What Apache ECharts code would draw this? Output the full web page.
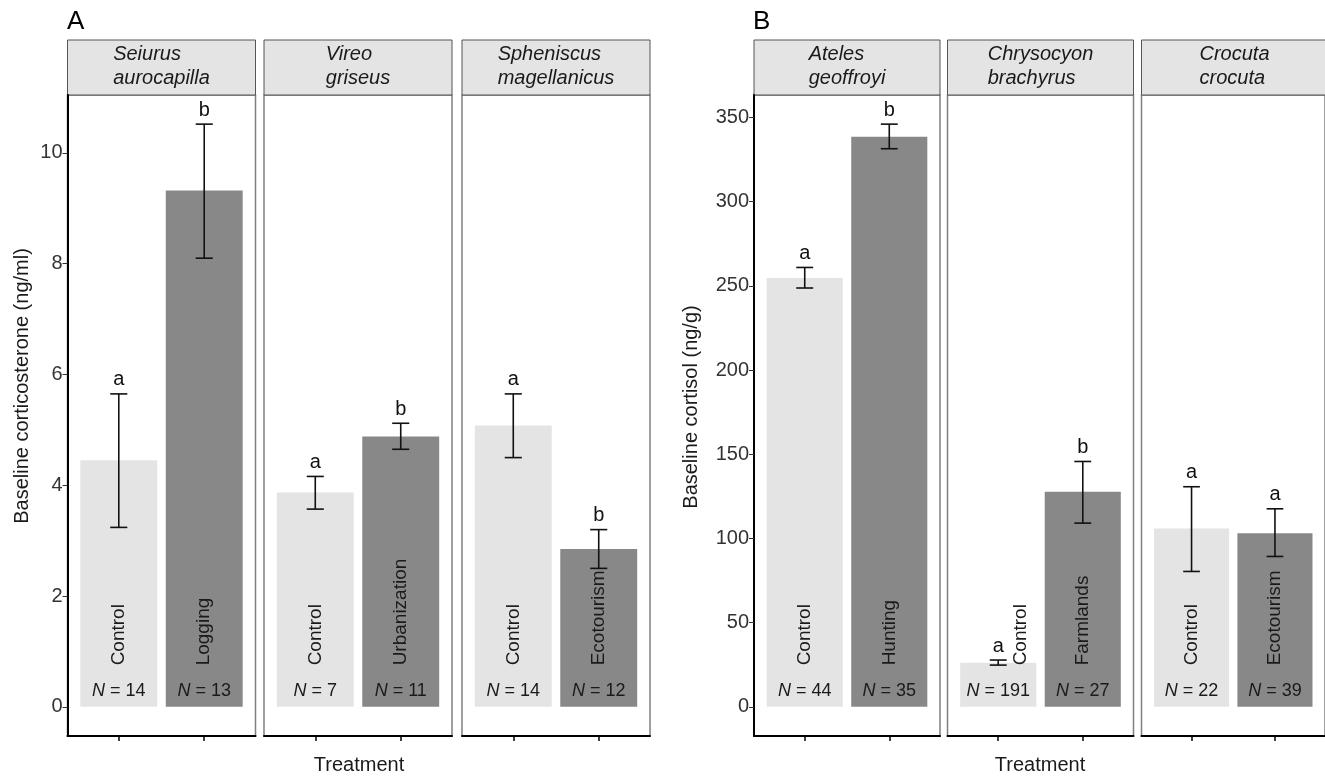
<!DOCTYPE html>
<html>
<head>
<meta charset="utf-8">
<script src="https://cdn.jsdelivr.net/npm/echarts@6/dist/echarts.min.js"></script>
<style>
  html, body { margin: 0; padding: 0; background: #fff; }
  #chart { width: 1325px; height: 776px; }
</style>
</head>
<body>
<div id="chart"></div>
<script>
// Panel A: birds, baseline corticosterone (ng/ml)
const speciesA = ['Seiurus\naurocapilla', 'Vireo\ngriseus', 'Spheniscus\nmagellanicus'];
const treatA = [['Control', 'Logging'], ['Control', 'Urbanization'], ['Control', 'Ecotourism']];
const meanA = [[4.45, 9.32], [3.87, 4.88], [5.08, 2.85]];
const lowA = [[3.24, 8.10], [3.57, 4.65], [4.50, 2.50]];
const highA = [[5.65, 10.52], [4.16, 5.12], [5.65, 3.20]];
const letterA = [['a', 'b'], ['a', 'b'], ['a', 'b']];
const nA = [[14, 13], [7, 11], [14, 12]];
const ticksA = [0, 2, 4, 6, 8, 10];

// Panel B: mammals, baseline cortisol (ng/g)
const speciesB = ['Ateles\ngeoffroyi', 'Chrysocyon\nbrachyrus', 'Crocuta\ncrocuta'];
const treatB = [['Control', 'Hunting'], ['Control', 'Farmlands'], ['Control', 'Ecotourism']];
const meanB = [[254.6, 338.5], [26.2, 127.7], [105.9, 103.1]];
const lowB = [[248.7, 331.4], [24.8, 109.1], [80.4, 89.3]];
const highB = [[260.9, 346.0], [27.8, 145.7], [130.7, 117.6]];
const letterB = [['a', 'b'], ['a', 'b'], ['a', 'a']];
const nB = [[44, 35], [191, 27], [22, 39]];
const ticksB = [0, 50, 100, 150, 200, 250, 300, 350];

const FONT = '"Liberation Sans", Arial, Helvetica, sans-serif';
const LIGHT = '#e3e4e3';
const DARK = '#888888';
const TOP = 95, HEIGHT = 641, STRIP_TOP = 40, STRIP_H = 55;

const panels = [
  { tag: 'A', tagX: 67, species: speciesA, treat: treatA, mean: meanA, low: lowA, high: highA,
    letter: letterA, n: nA, ticks: ticksA, lefts: [67.5, 264, 462], width: 188,
    ytitle: 'Baseline corticosterone (ng/ml)', ytitleX: 22, ytitleY: 386, xtitleX: 359 },
  { tag: 'B', tagX: 753, species: speciesB, treat: treatB, mean: meanB, low: lowB, high: highB,
    letter: letterB, n: nB, ticks: ticksB, lefts: [754, 947.5, 1141.5], width: 186,
    ytitle: 'Baseline cortisol (ng/g)', ytitleX: 691, ytitleY: 407, xtitleX: 1040 }
];

// treatment label moved aside where the error bar sits on it (Chrysocyon control)
const labelNudge = { 'B-1-0': 23 };

const measure = document.createElement('canvas').getContext('2d');
function textWidth(str, font) {
  measure.font = font;
  return Math.max(...str.split('\n').map(s => measure.measureText(s).width));
}

const grid = [], xAxis = [], yAxis = [], series = [], graphic = [];

panels.forEach((p, pi) => {
  const top = Math.max(...p.high.flat());
  const ymin = -0.05 * top, ymax = top * 1.05;

  p.lefts.forEach((left, f) => {
    const k = grid.length;
    grid.push({ left: left, top: TOP, width: p.width, height: HEIGHT, show: true,
      borderColor: '#808080', borderWidth: 1.5, backgroundColor: 'transparent' });
    xAxis.push({ gridIndex: k, type: 'value', min: 0.4, max: 2.6,
      axisLine: { show: true, onZero: false, lineStyle: { color: '#000', width: 2 } },
      axisTick: { show: true, customValues: [1, 2], length: 5, lineStyle: { color: '#000', width: 1.5 } },
      axisLabel: { show: false }, splitLine: { show: false } });
    yAxis.push({ gridIndex: k, type: 'value', min: ymin, max: ymax, show: f === 0,
      axisLine: { show: true, onZero: false, lineStyle: { color: '#000', width: 2 } },
      axisTick: { show: true, customValues: p.ticks, length: 5, lineStyle: { color: '#333', width: 1 } },
      axisLabel: { customValues: p.ticks, fontSize: 20, fontFamily: FONT, color: '#333', margin: 5 },
      splitLine: { show: false } });

    const data = [0, 1].map(i => [i + 1, p.mean[f][i], p.low[f][i], p.high[f][i]]);
    series.push({
      type: 'custom', xAxisIndex: k, yAxisIndex: k, data: data, clip: false,
      renderItem: function (params, api) {
        const i = params.dataIndex;
        const x = api.value(0), m = api.value(1), lo = api.value(2), hi = api.value(3);
        const base = api.coord([x, 0]);
        const tl = api.coord([x - 0.45, m]);
        const tr = api.coord([x + 0.45, m]);
        const eLo = api.coord([x, lo]), eHi = api.coord([x, hi]);
        const cl = api.coord([x - 0.1, 0])[0], cr = api.coord([x + 0.1, 0])[0];
        const nudge = labelNudge[p.tag + '-' + f + '-' + i] || 0;
        const ink = { stroke: '#111', lineWidth: 1.6 };
        return {
          type: 'group',
          children: [
            { type: 'rect', shape: { x: tl[0], y: tl[1], width: tr[0] - tl[0], height: base[1] - tl[1] },
              style: { fill: i === 0 ? LIGHT : DARK } },
            { type: 'text', x: base[0] + nudge, y: base[1] - 41.5, rotation: Math.PI / 2,
              style: { text: p.treat[f][i], font: '19px ' + FONT, fill: '#1a1a1a',
                align: 'left', verticalAlign: 'middle' } },
            { type: 'text', x: base[0], y: base[1] - 16,
              style: { text: '{i|N}{t| = ' + p.n[f][i] + '}', align: 'center', verticalAlign: 'middle',
                rich: { i: { fontStyle: 'italic', fontSize: 18, fontFamily: FONT, fill: '#1a1a1a' },
                        t: { fontSize: 18, fontFamily: FONT, fill: '#1a1a1a' } } } },
            { type: 'line', shape: { x1: eLo[0], y1: eLo[1], x2: eHi[0], y2: eHi[1] }, style: ink },
            { type: 'line', shape: { x1: cl, y1: eLo[1], x2: cr, y2: eLo[1] }, style: ink },
            { type: 'line', shape: { x1: cl, y1: eHi[1], x2: cr, y2: eHi[1] }, style: ink },
            { type: 'text', x: eHi[0], y: eHi[1] - 4,
              style: { text: p.letter[f][i], font: '20px ' + FONT, fill: '#111',
                align: 'center', verticalAlign: 'bottom' } }
          ]
        };
      }
    });

    // facet strip
    const stripFont = 'italic 20px ' + FONT;
    const w = textWidth(p.species[f], stripFont);
    graphic.push({ type: 'rect', shape: { x: left, y: STRIP_TOP, width: p.width, height: STRIP_H },
      style: { fill: '#e4e4e4', stroke: '#555', lineWidth: 1 } });
    graphic.push({ type: 'text', x: left + p.width / 2 - w / 2, y: STRIP_TOP + STRIP_H / 2 - 1,
      style: { text: p.species[f], font: stripFont, fill: '#1a1a1a', align: 'left',
        verticalAlign: 'middle', lineHeight: 24 } });
  });

  graphic.push({ type: 'text', x: p.tagX, y: 22,
    style: { text: p.tag, font: '26px ' + FONT, fill: '#000', align: 'left', verticalAlign: 'middle' } });
  graphic.push({ type: 'text', x: p.ytitleX, y: p.ytitleY, rotation: Math.PI / 2,
    style: { text: p.ytitle, font: '20px ' + FONT, fill: '#1a1a1a', align: 'center', verticalAlign: 'middle' } });
  graphic.push({ type: 'text', x: p.xtitleX, y: 765,
    style: { text: 'Treatment', font: '20px ' + FONT, fill: '#1a1a1a', align: 'center', verticalAlign: 'middle' } });
});

const chart = echarts.init(document.getElementById('chart'));
chart.setOption({
  animation: false,
  backgroundColor: '#fff',
  grid: grid,
  xAxis: xAxis,
  yAxis: yAxis,
  series: series,
  graphic: graphic
});
</script>
</body>
</html>
